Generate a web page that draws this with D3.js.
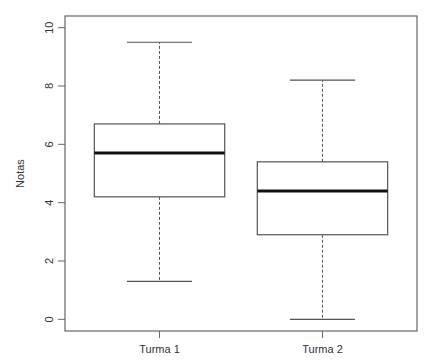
<!DOCTYPE html>
<html>
<head>
<meta charset="utf-8">
<script src="https://cdn.jsdelivr.net/npm/d3@7"></script>
<style>
  body { margin: 0; background: #fff; }
  text { font-family: "Liberation Sans", Arial, sans-serif; fill: #333; }
</style>
</head>
<body>
<script>
var w = 433;
var h = 364;

// summary values
var groups = ["Turma 1", "Turma 2"];
var mins = [1.3, 0];
var q1s = [4.2, 2.9];
var medians = [5.7, 4.4];
var q3s = [6.7, 5.4];
var maxs = [9.5, 8.2];
var yTicks = [0, 2, 4, 6, 8, 10];

var data = groups.map((g, i) => ({
    name: g, pos: i + 1, min: mins[i], q1: q1s[i], med: medians[i], q3: q3s[i], max: maxs[i]
}));

// plot box (note: "top" is reserved on window, so use pTop etc.)
var pLeft = 65, pRight = 417, pTop = 16, pBottom = 331;

var svg = d3.select("body")
    .append("svg")
    .attr("width", w)
    .attr("height", h);

var x = d3.scaleLinear().domain([0.42, 2.58]).range([pLeft, pRight]);
var y = d3.scaleLinear().domain([-0.4, 10.4]).range([pBottom, pTop]);

var boxW = x(1.4) - x(0.6);
var capW = boxW / 2;
var line = "#555";

var g = svg.append("g");
var boxes = g.selectAll("g.box").data(data).enter().append("g").attr("class", "box");

// whiskers
boxes.append("line")
    .attr("x1", d => x(d.pos)).attr("x2", d => x(d.pos))
    .attr("y1", d => y(d.q3)).attr("y2", d => y(d.max))
    .attr("stroke", line).attr("stroke-dasharray", "3,2");
boxes.append("line")
    .attr("x1", d => x(d.pos)).attr("x2", d => x(d.pos))
    .attr("y1", d => y(d.q1)).attr("y2", d => y(d.min))
    .attr("stroke", line).attr("stroke-dasharray", "3,2");
// caps
["min", "max"].forEach(k => {
    boxes.append("line")
        .attr("x1", d => x(d.pos) - capW / 2).attr("x2", d => x(d.pos) + capW / 2)
        .attr("y1", d => y(d[k])).attr("y2", d => y(d[k]))
        .attr("stroke", line).attr("stroke-width", 1.2);
});
// box
boxes.append("rect")
    .attr("x", d => x(d.pos) - boxW / 2)
    .attr("y", d => y(d.q3))
    .attr("width", boxW)
    .attr("height", d => y(d.q1) - y(d.q3))
    .attr("fill", "none")
    .attr("stroke", line).attr("stroke-width", 1.2);
// median
boxes.append("line")
    .attr("x1", d => x(d.pos) - boxW / 2).attr("x2", d => x(d.pos) + boxW / 2)
    .attr("y1", d => y(d.med)).attr("y2", d => y(d.med))
    .attr("stroke", "#111").attr("stroke-width", 3);

// frame
svg.append("rect")
    .attr("x", pLeft).attr("y", pTop)
    .attr("width", pRight - pLeft).attr("height", pBottom - pTop)
    .attr("fill", "none").attr("stroke", "#666").attr("stroke-width", 1.2);

// y axis
var yAxis = svg.append("g");
yAxis.selectAll("line").data(yTicks).enter().append("line")
    .attr("x1", pLeft - 7).attr("x2", pLeft)
    .attr("y1", d => y(d)).attr("y2", d => y(d))
    .attr("stroke", "#666");
yAxis.selectAll("text").data(yTicks).enter().append("text")
    .attr("transform", d => "translate(" + (pLeft - 12) + "," + y(d) + ") rotate(-90)")
    .attr("text-anchor", "middle")
    .attr("font-size", 11)
    .text(d => d);

svg.append("text")
    .attr("transform", "translate(24," + ((pTop + pBottom) / 2) + ") rotate(-90)")
    .attr("text-anchor", "middle")
    .attr("font-size", 11)
    .text("Notas");

// x axis
var xAxis = svg.append("g");
xAxis.selectAll("line").data(data).enter().append("line")
    .attr("x1", d => x(d.pos)).attr("x2", d => x(d.pos))
    .attr("y1", pBottom).attr("y2", pBottom + 7)
    .attr("stroke", "#666");
xAxis.selectAll("text").data(data).enter().append("text")
    .attr("x", d => x(d.pos))
    .attr("y", pBottom + 22)
    .attr("text-anchor", "middle")
    .attr("font-size", 11)
    .text(d => d.name);
</script>
</body>
</html>
